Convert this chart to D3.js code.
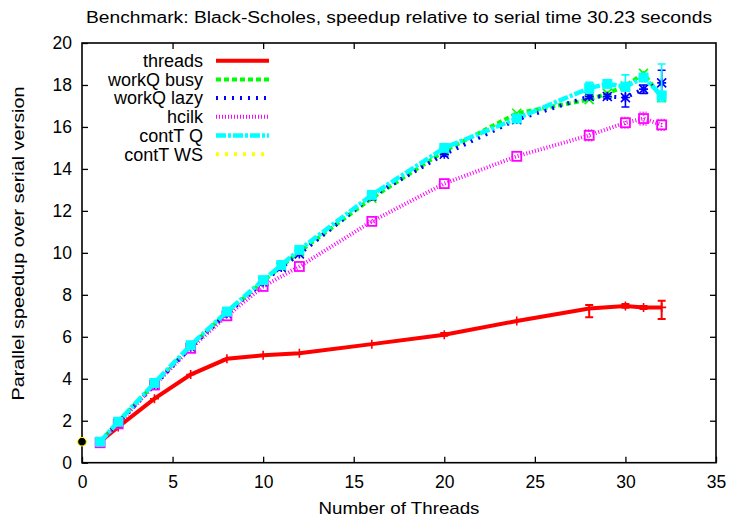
<!DOCTYPE html>
<html><head><meta charset="utf-8">
<script src="https://cdn.jsdelivr.net/npm/d3@7"></script>
<style>body{margin:0;background:#fff}svg{display:block}text{font-family:"Liberation Sans",Arial,sans-serif;fill:#000}</style>
</head><body><svg id="c" width="730" height="518"></svg>
<script>
const title = "Benchmark: Black-Scholes, speedup relative to serial time 30.23 seconds";
const xLabel = "Number of Threads";
const yLabel = "Parallel speedup over serial version";
const xTicks = [0,5,10,15,20,25,30,35];
const yTicks = [0,2,4,6,8,10,12,14,16,18,20];

const threadsX = [1,2,4,6,8,10,12,16,20,24,28,30,31,32];
const threadsY = [1.0,1.7,3.05,4.2,4.95,5.12,5.22,5.65,6.1,6.75,7.35,7.47,7.4,7.4];
const threadsLo = [0.97,1.67,3.02,4.17,4.92,5.09,5.19,5.62,6.05,6.7,6.93,7.38,7.33,6.85];
const threadsHi = [1.03,1.73,3.08,4.23,4.98,5.15,5.25,5.68,6.18,6.8,7.51,7.56,7.47,7.72];

const fullX = [1,2,4,6,8,10,11,12,16,20,24,28,29,30,31,32];
const busyY = [1.0,1.95,3.75,5.55,7.15,8.65,9.35,10.05,12.6,14.85,16.65,17.3,17.6,17.95,18.55,17.4];
const lazyY = [1.0,1.9,3.7,5.5,7.1,8.6,9.3,9.95,12.7,14.7,16.35,17.45,17.45,17.4,17.8,18.1];
const lazyLo = [1.0,1.9,3.7,5.5,7.1,8.6,9.3,9.9,12.55,14.6,16.3,17.35,17.35,16.95,17.6,17.5];
const lazyHi = [1.0,1.9,3.7,5.5,7.1,8.6,9.3,10.0,12.85,14.8,16.4,17.55,17.55,17.8,18.0,18.7];
const hcilkY = [0.95,1.85,3.7,5.45,7.0,8.4,9.35,11.5,13.3,14.6,15.6,16.2,16.4,16.1];
const hcilkLo = [0.95,1.85,3.7,5.45,7.0,8.4,9.35,11.45,13.25,14.55,15.35,15.95,16.1,15.85];
const hcilkHi = [0.95,1.85,3.7,5.45,7.0,8.4,9.35,11.55,13.35,14.65,15.85,16.45,16.7,16.35];
const contQY = [1.0,1.95,3.8,5.6,7.2,8.7,9.42,10.14,12.76,15.0,16.4,17.85,18.05,17.92,18.35,17.5];
const contQLo = [1.0,1.95,3.8,5.6,7.2,8.7,9.42,10.14,12.7,14.95,16.35,17.6,18.0,17.7,18.25,17.2];
const contQHi = [1.0,1.95,3.8,5.6,7.2,8.7,9.42,10.14,12.82,15.05,16.45,18.13,18.1,18.48,18.45,19.0];
const wsX = [0];
const wsY = [1.0];

const seriesNames = ["threads","workQ busy","workQ lazy","hcilk","contT Q","contT WS"];
const seriesColors = ["#ff0000","#00ff00","#0000ff","#ff00ff","#00ffff","#ffff00"];

const svg = d3.select("#c");
const L = 82, R = 716, T = 43, B = 462.7;
const x = d3.scaleLinear().domain([0,35]).range([L,R]);
const y = d3.scaleLinear().domain([0,20]).range([B,T]);

const series = [
  {name:seriesNames[0], color:seriesColors[0], xs:threadsX, ys:threadsY, lo:threadsLo, hi:threadsHi, dash:null, w:4, mk:"plus"},
  {name:seriesNames[1], color:seriesColors[1], xs:fullX, ys:busyY, lo:null, hi:null, dash:"5,3", w:4, mk:"cross"},
  {name:seriesNames[2], color:seriesColors[2], xs:fullX, ys:lazyY, lo:lazyLo, hi:lazyHi, dash:"2,6", w:4, mk:"star"},
  {name:seriesNames[3], color:seriesColors[3], xs:threadsX, ys:hcilkY, lo:hcilkLo, hi:hcilkHi, dash:"1,2", w:4, mk:"osq", ebDash:"1,2"},
  {name:seriesNames[4], color:seriesColors[4], xs:fullX, ys:contQY, lo:contQLo, hi:contQHi, dash:"10,2,3,2", w:4.5, mk:"fsq"},
  {name:seriesNames[5], color:seriesColors[5], xs:wsX, ys:wsY, lo:null, hi:null, dash:"3,6", w:4, mk:"dot"}
];

// title
svg.append("text").attr("x",(L+R)/2).attr("y",23).attr("text-anchor","middle")
  .attr("font-size",16).attr("textLength",626).attr("lengthAdjust","spacingAndGlyphs").text(title);

// axes ticks
const g = svg.append("g");
const xa = d3.axisBottom(x).tickValues(xTicks).tickSize(-6).tickPadding(13).tickFormat(d3.format("d"));
const xaT = d3.axisTop(x).tickValues(xTicks.slice(1,-1)).tickSize(-6).tickFormat("");
const ya = d3.axisLeft(y).tickValues(yTicks).tickSize(-6).tickPadding(10).tickFormat(d3.format("d"));
const yaR = d3.axisRight(y).tickValues(yTicks.slice(1,-1)).tickSize(-6).tickFormat("");
function styleAx(sel){sel.select(".domain").remove();sel.selectAll("line").attr("stroke","#000").attr("stroke-width",1.3);
  sel.selectAll("text").attr("font-size",17.5).attr("fill","#000").attr("font-family",'"Liberation Sans",Arial,sans-serif');}
g.append("g").attr("transform",`translate(0,${B})`).call(xa).call(styleAx);
g.append("g").attr("transform",`translate(0,${T})`).call(xaT).call(styleAx);
g.append("g").attr("transform",`translate(${L},0)`).call(ya).call(styleAx);
g.append("g").attr("transform",`translate(${R},0)`).call(yaR).call(styleAx);

svg.append("rect").attr("x",L).attr("y",T).attr("width",R-L).attr("height",B-T)
  .attr("fill","none").attr("stroke","#000").attr("stroke-width",1.6);

// axis labels
svg.append("text").attr("x",(L+R)/2).attr("y",514).attr("text-anchor","middle").attr("font-size",17)
  .attr("textLength",161).attr("lengthAdjust","spacingAndGlyphs").text(xLabel);
svg.append("text").attr("transform",`translate(24,243.5) rotate(-90)`).attr("text-anchor","middle").attr("font-size",17)
  .attr("textLength",314).attr("lengthAdjust","spacingAndGlyphs").text(yLabel);

// series
const line = d3.line().x(d=>x(d[0])).y(d=>y(d[1]));
function marker(sel, kind, color, px, py){
  const s = 4.5;
  if(kind==="plus"){
    sel.append("path").attr("d",`M${px-s},${py}H${px+s}M${px},${py-s}V${py+s}`).attr("stroke",color).attr("stroke-width",1.6).attr("fill","none");
  } else if(kind==="cross"){
    sel.append("path").attr("d",`M${px-s},${py-s}L${px+s},${py+s}M${px-s},${py+s}L${px+s},${py-s}`).attr("stroke",color).attr("stroke-width",1.6).attr("fill","none");
  } else if(kind==="star"){
    sel.append("path").attr("d",`M${px-s},${py}H${px+s}M${px},${py-s}V${py+s}M${px-s},${py-s}L${px+s},${py+s}M${px-s},${py+s}L${px+s},${py-s}`).attr("stroke",color).attr("stroke-width",1.6).attr("fill","none");
  } else if(kind==="osq"){
    sel.append("rect").attr("x",px-s).attr("y",py-s).attr("width",2*s).attr("height",2*s).attr("stroke",color).attr("stroke-width",1.8).attr("fill","none");
  } else if(kind==="fsq"){
    sel.append("rect").attr("x",px-5).attr("y",py-5).attr("width",10).attr("height",10).attr("fill",color);
  } else if(kind==="dot"){
    sel.append("circle").attr("cx",px).attr("cy",py).attr("r",4.3).attr("fill","#000").attr("stroke",color).attr("stroke-width",1);
  }
}
series.forEach(s=>{
  const gs = svg.append("g");
  const pts = s.xs.map((v,i)=>[v,s.ys[i]]);
  if(pts.length>1){
    gs.append("path").attr("d",line(pts)).attr("fill","none").attr("stroke",s.color)
      .attr("stroke-width",s.w).attr("stroke-dasharray",s.dash).attr("stroke-linejoin","miter");
  }
  if(s.lo){
    s.xs.forEach((v,i)=>{
      if(s.hi[i]-s.lo[i] < 0.1) return;
      const px=x(v), y1=y(s.lo[i]), y2=y(s.hi[i]);
      gs.append("path").attr("d",`M${px},${y1}V${y2}M${px-4},${y1}H${px+4}M${px-4},${y2}H${px+4}`)
        .attr("stroke",s.color).attr("stroke-width",s.name==="threads"?2:1.6).attr("fill","none")
        .attr("stroke-dasharray",s.ebDash||null);
    });
  }
  pts.forEach(p=>marker(gs,s.mk,s.color,x(p[0]),y(p[1])));
});

// legend
const legY0 = 60.7, legDy = 18.7;
series.forEach((s,i)=>{
  const yy = legY0 + i*legDy;
  svg.append("text").attr("x",203).attr("y",yy).attr("dy","0.35em").attr("text-anchor","end").attr("font-size",18).text(s.name);
  svg.append("line").attr("x1",216).attr("x2",269).attr("y1",yy).attr("y2",yy).attr("stroke",s.color)
    .attr("stroke-width",s.w).attr("stroke-dasharray",s.dash);
});
</script></body></html>
